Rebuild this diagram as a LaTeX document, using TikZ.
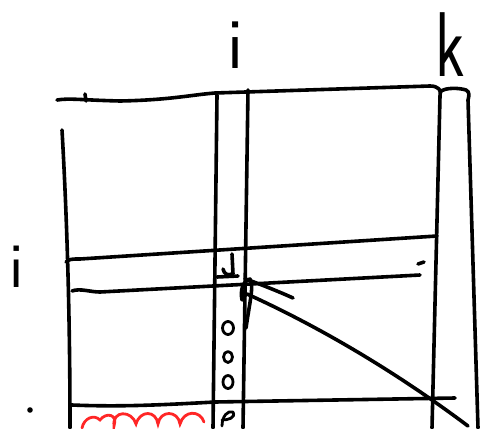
\documentclass[tikz,border=0pt]{standalone}
\usetikzlibrary{calc}
\begin{document}
\begin{tikzpicture}[x=1pt,y=-1pt,
  pen/.style={line width=3.6pt,line cap=round,line join=round,black},
  redpen/.style={line width=2.8pt,line cap=round,red!85!white},
  lbl/.style={inner sep=0pt,font=\sffamily\fontsize{72}{72}\selectfont}]
\useasboundingbox (0,0) rectangle (481,428);
% labels
\node[lbl] (ti) at (236,45) {i};
\node[lbl,font=\sffamily\fontsize{92}{92}\selectfont,xscale=0.7,transform shape] (tk) at (450,45) {k};
\node[lbl,font=\sffamily\fontsize{64}{64}\selectfont] (li) at (17,267) {i};
\fill (30,410) circle (2.8pt);
% top line and right column
\draw[pen] (57,100) .. controls (70,98) and (80,100) .. (120,101)
  .. controls (170,100) and (190,95) .. (215,93) -- (430,86)
  .. controls (438,86) and (442,90) .. (440,96) -- (432,428);
\draw[pen] (85,94) -- (86,101);
\draw[pen] (440,92) .. controls (445,87) and (460,88) .. (466,90)
  .. controls (470,92) and (469,96) .. (468,100) -- (478,428);
% left border
\draw[pen] (62,130) .. controls (66,200) and (70,300) .. (70,428);
% horizontal lines
\draw[pen] (66,262) .. controls (69,259) and (72,259) .. (80,259) -- (437,236);
\draw[pen] (72,291) .. controls (80,288) and (90,292) .. (100,292) -- (420,275);
\draw[pen] (418,264) -- (424,262);
\draw[pen] (72,405) .. controls (120,407) and (160,405) .. (215,402) -- (455,398);
% middle column
\draw[pen] (217,95) -- (213,428);
\draw[pen] (248,90) -- (243,428);
% diagonal
\draw[pen] (247,294) .. controls (300,318) and (380,360) .. (468,426);
\draw[pen] (245,279) .. controls (255,282) and (280,292) .. (293,298);
\draw[pen] (242,300) .. controls (240,290) and (243,281) .. (250,279)
  .. controls (254,286) and (250,300) .. (246,328);
% scribble near crossing
\draw[pen] (232,254) -- (233,274);
\draw[pen] (217,277) -- (238,276);
\draw[pen] (223,269) .. controls (224,274) and (228,276) .. (232,274);
% small o marks
\draw[pen,line width=2.8pt] (228,328) ellipse (5.5pt and 6.5pt);
\draw[pen,line width=2.8pt] (228,357) ellipse (4.5pt and 5.5pt);
\draw[pen,line width=2.8pt] (228,382) ellipse (5pt and 6.5pt);
\draw[pen,line width=2.8pt] (222,426) .. controls (222,416) and (228,410) .. (233,412)
  .. controls (236,418) and (228,420) .. (222,420);
% red loops
\draw[redpen] (82,428) .. controls (84,418) and (94,414) .. (100,420)
  .. controls (106,412) and (118,414) .. (114,426)
  .. controls (112,410) and (132,410) .. (136,424)
  .. controls (140,410) and (156,410) .. (158,424)
  .. controls (160,410) and (178,410) .. (180,424)
  .. controls (184,410) and (200,410) .. (204,422);
\end{tikzpicture}
\end{document}
